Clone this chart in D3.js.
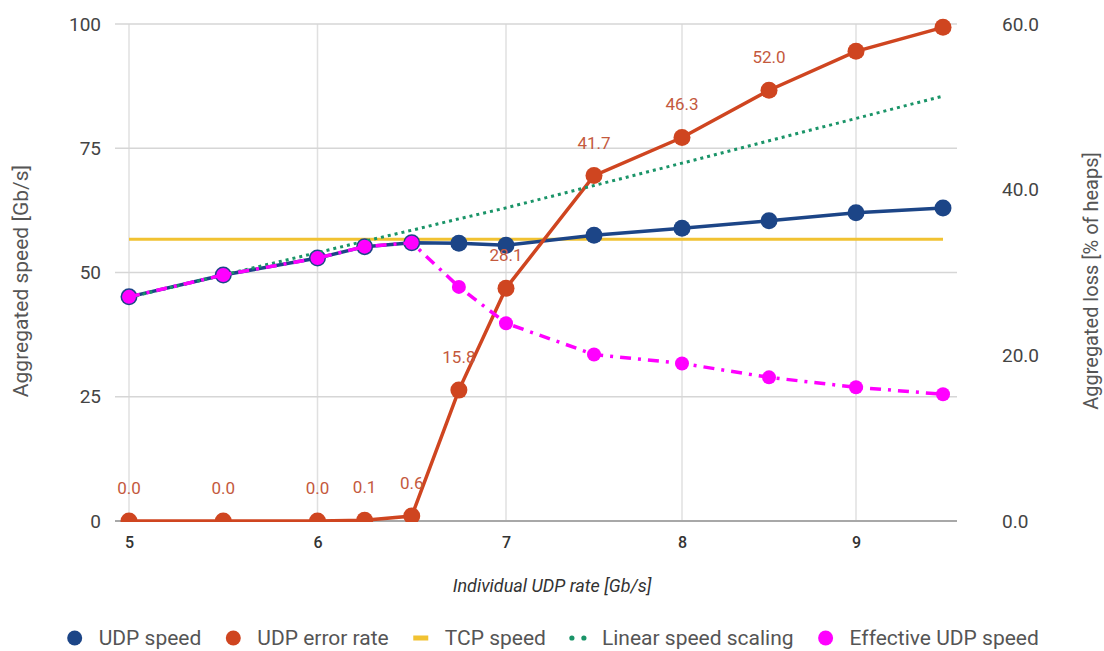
<!DOCTYPE html>
<html>
<head>
<meta charset="utf-8">
<script src="https://cdn.jsdelivr.net/npm/d3@7"></script>
<style>
  html, body { margin: 0; padding: 0; background: #fff; }
  svg { display: block; font-family: Roboto, "Noto Sans", sans-serif; }
</style>
</head>
<body>
<svg id="chart" width="1104" height="651"></svg>
<script>
// ---- data ----
const xValues      = [5, 5.5, 6, 6.25, 6.5, 6.75, 7, 7.5, 8, 8.5, 9, 9.5];
const udpSpeed     = [45.1, 49.5, 52.9, 55.2, 56.0, 55.9, 55.5, 57.5, 58.9, 60.4, 62.0, 63.0];
const udpErrorRate = [0.0, 0.0, 0.0, 0.1, 0.6, 15.8, 28.1, 41.7, 46.3, 52.0, 56.7, 59.6];
const errorLabels  = ["0.0", "0.0", "0.0", "0.1", "0.6", "15.8", "28.1", "41.7", "46.3", "52.0", null, null];
const tcpSpeed     = [56.7, 56.7, 56.7, 56.7, 56.7, 56.7, 56.7, 56.7, 56.7, 56.7, 56.7, 56.7];
const linearScaling= [45, 49.5, 54, 56.3, 58.5, 60.8, 63, 67.5, 72, 76.5, 81, 85.5];
const effectiveUdp = [45.1, 49.5, 52.9, 55.2, 56.0, 47.1, 39.8, 33.5, 31.7, 28.9, 26.9, 25.5];

const xTicks      = [5, 6, 7, 8, 9];
const leftTicks   = [0, 25, 50, 75, 100];
const rightTicks  = [0, 20, 40, 60];
const seriesNames = ["UDP speed", "UDP error rate", "TCP speed", "Linear speed scaling", "Effective UDP speed"];
const seriesColors= ["#1c4587", "#cf4520", "#f1c232", "#1a9468", "#ff00ff"];
const xTitle = "Individual UDP rate [Gb/s]";
const yLeftTitle = "Aggregated speed [Gb/s]";
const yRightTitle = "Aggregated loss [% of heaps]";

// ---- layout ----
const plot = { left: 115, right: 957, top: 24, bottom: 521 };
const svg = d3.select("#chart");

const x = d3.scaleLinear().domain([5, 7, 8, 9.5]).range([129, 506, 682, 943]);
const yL = d3.scaleLinear().domain([0, 100]).range([plot.bottom, plot.top]);
const yR = d3.scaleLinear().domain([0, 60]).range([plot.bottom, plot.top]);

// clip (bottom of plot area only)
svg.append("defs").append("clipPath").attr("id", "clipBottom")
  .append("rect").attr("x", 0).attr("y", 0).attr("width", 1104).attr("height", plot.bottom + 1);

// gridlines
const grid = svg.append("g");
grid.selectAll("line.v").data(xTicks).join("line")
  .attr("x1", d => x(d)).attr("x2", d => x(d))
  .attr("y1", plot.top).attr("y2", plot.bottom)
  .attr("stroke", "#e0e0e0").attr("stroke-width", 1.5);
grid.selectAll("line.h").data(leftTicks.filter(d => d !== 0)).join("line")
  .attr("x1", plot.left).attr("x2", plot.right)
  .attr("y1", d => yL(d)).attr("y2", d => yL(d))
  .attr("stroke", "#d6d6d6").attr("stroke-width", 1.5);
grid.append("line")
  .attr("x1", plot.left).attr("x2", plot.right)
  .attr("y1", yL(0)).attr("y2", yL(0))
  .attr("stroke", "#a8a8a8").attr("stroke-width", 2);

// axes
const axL = svg.append("g").attr("transform", `translate(${plot.left},0)`)
  .call(d3.axisLeft(yL).tickValues(leftTicks).tickSize(0).tickPadding(14));
const axR = svg.append("g").attr("transform", `translate(${plot.right},0)`)
  .call(d3.axisRight(yR).tickValues(rightTicks).tickFormat(d3.format(".1f")).tickSize(0).tickPadding(45));
const axB = svg.append("g").attr("transform", `translate(0,${plot.bottom})`)
  .call(d3.axisBottom(x).tickValues(xTicks).tickFormat(d3.format("d")).tickSize(0).tickPadding(16));
[axL, axR, axB].forEach(a => { a.select(".domain").remove(); });
axL.selectAll("text").attr("font-size", 19).attr("fill", "#444").attr("font-family", "Roboto");
axR.selectAll("text").attr("font-size", 19).attr("fill", "#444").attr("font-family", "Roboto");
axB.selectAll("text").attr("font-size", 16).attr("fill", "#333").attr("font-weight", 500).attr("font-family", "Roboto");

// axis titles
svg.append("text").text(xTitle)
  .attr("x", 552).attr("y", 585).attr("text-anchor", "middle").attr("dominant-baseline", "central")
  .attr("font-size", 18).attr("font-style", "italic").attr("fill", "#333");
svg.append("text").text(yLeftTitle)
  .attr("transform", "translate(21,281) rotate(-90)")
  .attr("text-anchor", "middle").attr("dominant-baseline", "central")
  .attr("font-size", 21).attr("fill", "#555");
svg.append("text").text(yRightTitle)
  .attr("transform", "translate(1091,281) rotate(-90)")
  .attr("text-anchor", "middle").attr("dominant-baseline", "central")
  .attr("font-size", 20).attr("fill", "#555");

const idx = d3.range(xValues.length);
const lineL = vals => d3.line().x(i => x(xValues[i])).y(i => yL(vals[i]))(idx);
const lineR = vals => d3.line().x(i => x(xValues[i])).y(i => yR(vals[i]))(idx);

// TCP speed
svg.append("path").attr("d", lineL(tcpSpeed))
  .attr("fill", "none").attr("stroke", seriesColors[2]).attr("stroke-width", 3);

// UDP speed
svg.append("path").attr("d", lineL(udpSpeed))
  .attr("fill", "none").attr("stroke", seriesColors[0]).attr("stroke-width", 3.5);
svg.append("g").selectAll("circle").data(idx).join("circle")
  .attr("cx", i => x(xValues[i])).attr("cy", i => yL(udpSpeed[i])).attr("r", 8.5)
  .attr("fill", seriesColors[0]);

// UDP error rate
const red = svg.append("g").attr("clip-path", "url(#clipBottom)");
red.append("path").attr("d", lineR(udpErrorRate))
  .attr("fill", "none").attr("stroke", seriesColors[1]).attr("stroke-width", 3.5);
red.selectAll("circle").data(idx).join("circle")
  .attr("cx", i => x(xValues[i])).attr("cy", i => yR(udpErrorRate[i])).attr("r", 8.5)
  .attr("fill", seriesColors[1]);

// Linear speed scaling
svg.append("path").attr("d", lineL(linearScaling))
  .attr("fill", "none").attr("stroke", seriesColors[3]).attr("stroke-width", 3)
  .attr("stroke-dasharray", "3,4");

// Effective UDP speed
svg.append("path").attr("d", lineL(effectiveUdp))
  .attr("fill", "none").attr("stroke", seriesColors[4]).attr("stroke-width", 3.5)
  .attr("stroke-dasharray", "11,7,3,7");
svg.append("g").selectAll("circle").data(idx).join("circle")
  .attr("cx", i => x(xValues[i])).attr("cy", i => yL(effectiveUdp[i])).attr("r", 7)
  .attr("fill", seriesColors[4]);

// data labels for error rate
svg.append("g").selectAll("text").data(idx.filter(i => errorLabels[i] !== null)).join("text")
  .attr("x", i => x(xValues[i])).attr("y", i => yR(udpErrorRate[i]) - 33)
  .attr("text-anchor", "middle").attr("dominant-baseline", "central")
  .attr("font-size", 17).attr("fill", "#c4593d")
  .text(i => errorLabels[i]);

// legend
const legend = svg.append("g");
const legY = 638;
let cursor = 0;
seriesNames.forEach((name, k) => {
  const g = legend.append("g");
  if (k === 2) {
    g.append("rect").attr("x", cursor - 7.5).attr("y", legY - 2.5).attr("width", 15).attr("height", 5)
      .attr("fill", seriesColors[k]);
  } else if (k === 3) {
    [-6, 6].forEach(dx => g.append("circle").attr("cx", cursor + dx).attr("cy", legY).attr("r", 2.6)
      .attr("fill", seriesColors[k]));
  } else {
    g.append("circle").attr("cx", cursor).attr("cy", legY).attr("r", 7.5).attr("fill", seriesColors[k]);
  }
  const t = g.append("text").text(name).attr("x", cursor + 24).attr("y", legY)
    .attr("dominant-baseline", "central").attr("font-size", 21).attr("fill", "#555");
  const w = t.node().getComputedTextLength();
  cursor += 24 + w + 32;
});
const legendWidth = cursor - 32 + 7.5;
legend.attr("transform", `translate(${553 - legendWidth / 2 + 7.5},0)`);
</script>
</body>
</html>
